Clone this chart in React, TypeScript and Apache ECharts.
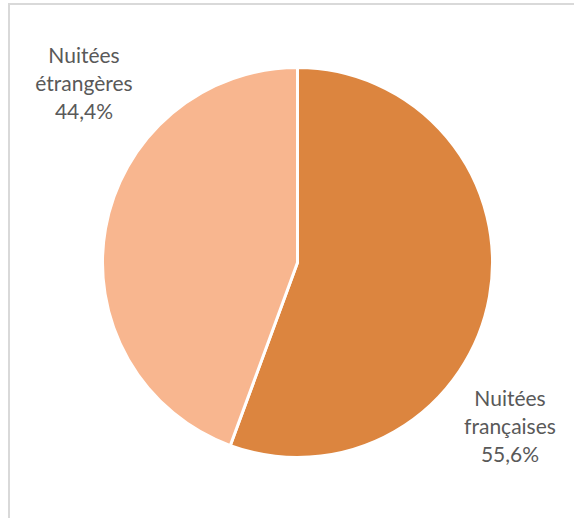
import React, { useEffect, useRef } from "react";
import * as echarts from "echarts";

const categories = ["Nuitées\nfrançaises", "Nuitées\nétrangères"];
const values = [55.6, 44.4];
const colors = ["#DC853F", "#F8B68F"];

export default function App() {
  const ref = useRef<HTMLDivElement>(null);
  useEffect(() => {
    document.body.style.margin = "0";
    const chart = echarts.init(ref.current!, null, { renderer: "svg" });
    const labelPos = [
      { x: 510, y: 425 },
      { x: 84, y: 82 },
    ];
    chart.setOption({
      animation: false,
      graphic: [
        {
          type: "rect",
          shape: { x: 9, y: 4, width: 700, height: 700 },
          style: { fill: "none", stroke: "#D9D9D9", lineWidth: 2 },
          silent: true,
        },
      ],
      series: [
        {
          type: "pie",
          center: [297.5, 262.5],
          radius: 195,
          startAngle: 90,
          clockwise: true,
          itemStyle: { borderColor: "#ffffff", borderWidth: 3 },
          data: categories.map((c, i) => ({
            name: c,
            value: values[i],
            itemStyle: { color: colors[i] },
          })),
          label: {
            show: true,
            position: "outside",
            overflow: "none",
            width: 200,
            formatter: (p: any) =>
              p.name + "\n" + p.value.toFixed(1).replace(".", ",") + "%",
            fontFamily: "Lato",
            fontSize: 21,
            lineHeight: 28,
            color: "#595959",
            align: "center",
          },
          labelLine: { show: false },
          labelLayout: (params: any) => ({
            x: labelPos[params.dataIndex].x,
            y: labelPos[params.dataIndex].y,
            align: "center",
            verticalAlign: "middle",
          }),
        },
      ],
    });
    return () => chart.dispose();
  }, []);
  return <div ref={ref} style={{ width: 574, height: 518 }} />;
}
